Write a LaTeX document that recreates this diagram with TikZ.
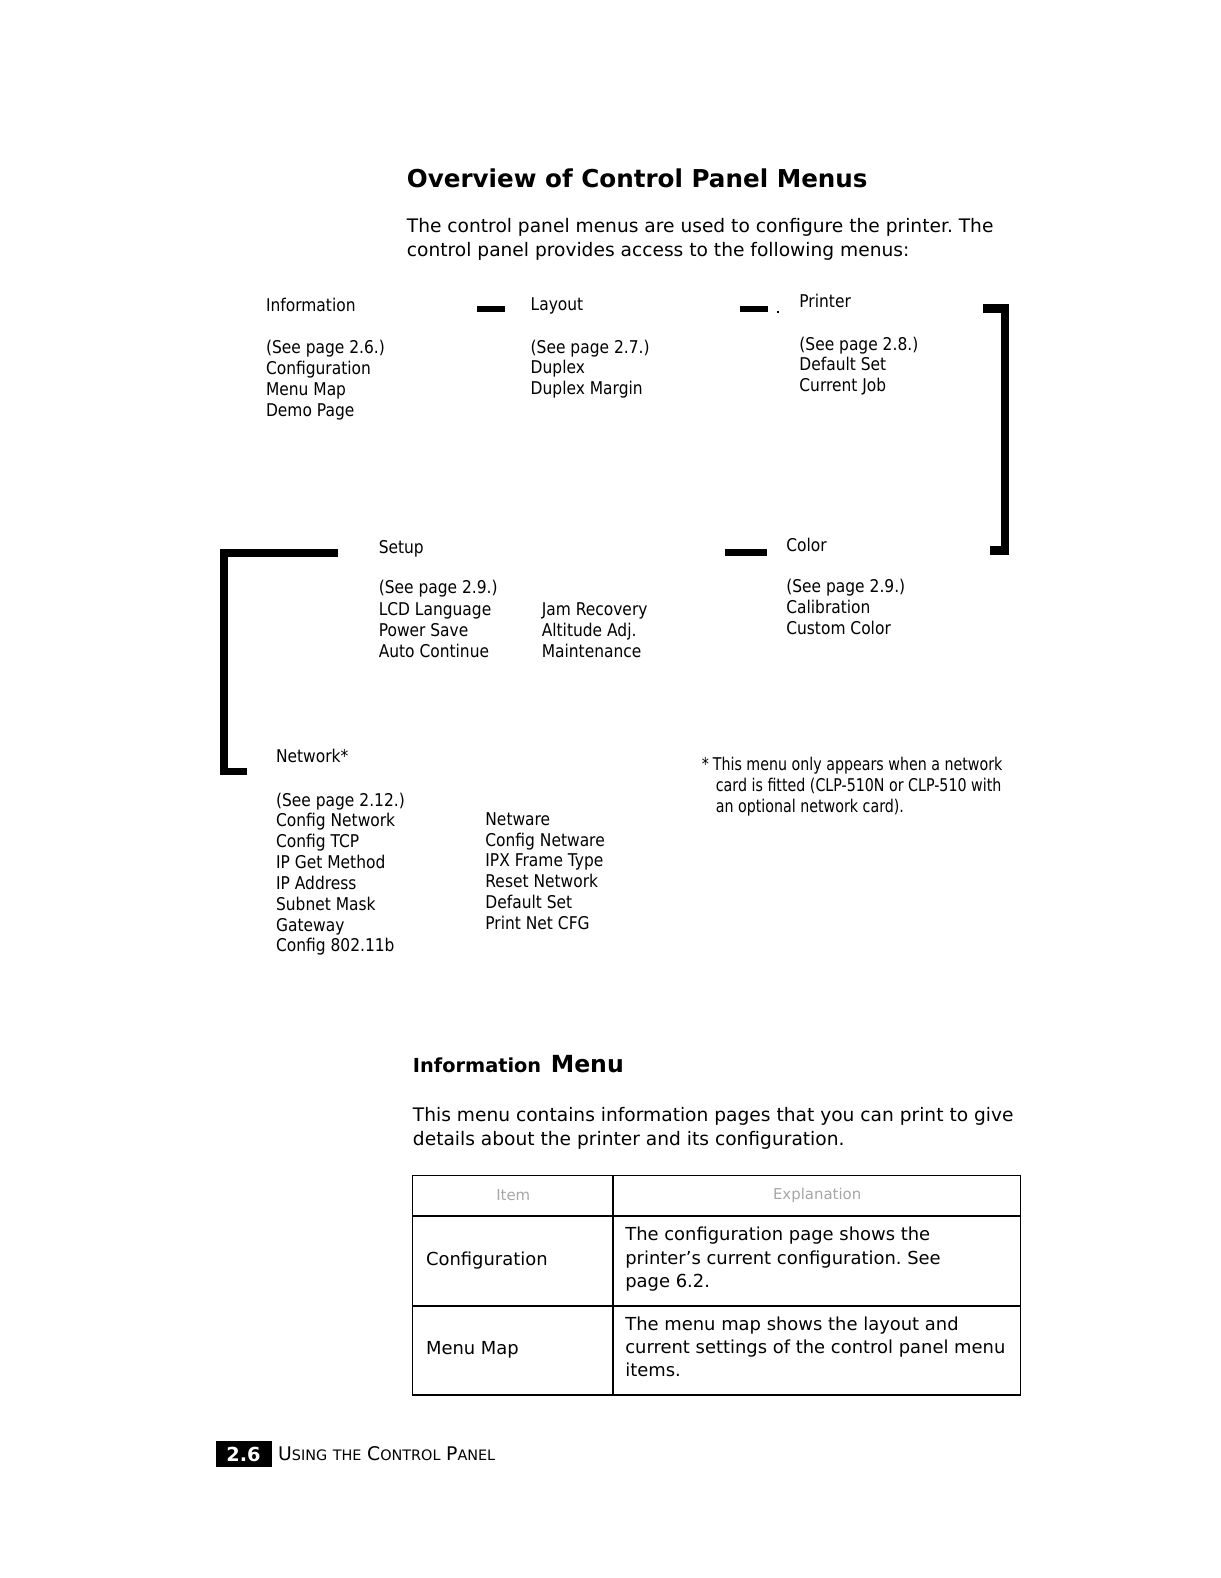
\documentclass[tikz,border=0pt]{standalone}
\usepackage{fontspec}
\setmainfont{DejaVu Sans}
\newfontfamily\menufont[FakeStretch=0.88]{DejaVu Sans}
\newfontfamily\notefont[FakeStretch=0.81]{DejaVu Sans}
\frenchspacing
\tikzset{
  menu/.style={anchor=base west,inner sep=0pt,font=\menufont\fontsize{10}{12}\selectfont},
  note/.style={anchor=base west,inner sep=0pt,font=\notefont\fontsize{10}{12}\selectfont},
  body/.style={anchor=base west,inner sep=0pt,font=\fontsize{10.6}{13}\selectfont},
  cell/.style={anchor=base west,inner sep=0pt,font=\fontsize{10.2}{13}\selectfont},
  faint/.style={inner sep=0pt,text=black!35,font=\fontsize{8.5}{10}\selectfont}
}
\newcommand{\capsmall}[2]{{\fontsize{10.7}{12}\selectfont #1}{\fontsize{8.2}{10}\selectfont #2}}

\begin{document}
\begin{tikzpicture}[x=0.020132cm,y=-0.020132cm]
\useasboundingbox (0,0) rectangle (1213,1568);
% heading and intro
\node[anchor=base west,inner sep=0pt,font=\bfseries\fontsize{14}{16}\selectfont] (title) at (404,186) {Overview of Control Panel Menus};
\node[body] (intro1) at (404,231) {The control panel menus are used to configure the printer. The};
\node[body] (intro2) at (404,255) {control panel provides access to the following menus:};

% menus
\node[menu] (info) at (264,310) {Information};
\foreach \t [count=\i from 0] in {{(See page 2.6.)},Configuration,{Menu Map},{Demo Page}}
  \node[menu] (info\i) at (264,351+20.8*\i) {\t};
\node[menu] (layout) at (527,309) {Layout};
\foreach \t [count=\i from 0] in {{(See page 2.7.)},Duplex,{Duplex Margin}}
  \node[menu] (layout\i) at (527,351+20.6*\i) {\t};
\node[menu] (printer) at (794,306) {Printer};
\foreach \t [count=\i from 0] in {{(See page 2.8.)},{Default Set},{Current Job}}
  \node[menu] (printer\i) at (794,348+20.6*\i) {\t};
\node[menu] (setup) at (376,550) {Setup};
\foreach \t [count=\i from 0] in {{(See page 2.9.)},{LCD Language},{Power Save},{Auto Continue}}
  \node[menu] (setup\i) at (376,590+21.2*\i) {\t};
\foreach \t [count=\i from 1] in {{Jam Recovery},{Altitude Adj.},Maintenance}
  \node[menu] (setupb\i) at (538,590+21.2*\i) {\t};
\node[menu] (color) at (781,548) {Color};
\foreach \t [count=\i from 0] in {{(See page 2.9.)},Calibration,{Custom Color}}
  \node[menu] (color\i) at (781,589+20.8*\i) {\t};
\node[menu] (network) at (274,758) {Network*};
\foreach \t [count=\i from 0] in {{(See page 2.12.)},{Config Network},{Config TCP},{IP Get Method},{IP Address},{Subnet Mask},Gateway,{Config 802.11b}}
  \node[menu] (net\i) at (274,801+20.7*\i) {\t};
\foreach \t [count=\i from 0] in {Netware,{Config Netware},{IPX Frame Type},{Reset Network},{Default Set},{Print Net CFG}}
  \node[menu] (netb\i) at (482,820+20.7*\i) {\t};

% footnote
\node[note] (star) at (697,766) {*};
\node[note] (note1) at (708,766) {This menu only appears when a network};
\node[note] (note2) at (711,786) {card is fitted (CLP-510N or CLP-510 with};
\node[note] (note3) at (711,807) {an optional network card).};

% bars and brackets
\fill (474,304) rectangle (502,310);
\fill (735,304) rectangle (763,310);
\fill (772,309) rectangle (774,311);
\fill (977,302) rectangle (1003,311);
\fill (995,302) rectangle (1003,551);
\fill (984,543) rectangle (1003,551);
\fill (720,546) rectangle (762,552);
\fill (219,546) rectangle (336,553);
\fill (219,546) rectangle (227,770);
\fill (219,763) rectangle (245,770);

% information menu
\node[anchor=base west,inner sep=0pt,font=\bfseries\fontsize{11}{13}\selectfont] (infohead) at (410,1066) {Information};
\node[anchor=base west,inner sep=0pt,font=\bfseries\fontsize{13.4}{15}\selectfont] (menuhead) at (547,1066) {Menu};
\node[body] (desc1) at (410,1114) {This menu contains information pages that you can print to give};
\node[body] (desc2) at (410,1138) {details about the printer and its configuration.};

% table
\draw[line width=1pt] (410,1168) rectangle (1014,1386);
\draw[line width=1pt] (609,1168) -- (609,1386);
\draw[line width=1pt] (410,1208) -- (1014,1208);
\draw[line width=1pt] (410,1298) -- (1014,1298);
\node[faint] (hitem) at (510,1188) {Item};
\node[faint] (hexpl) at (812,1188) {Explanation};
\node[cell] (cfg) at (423,1257) {Configuration};
\foreach \t [count=\i from 0] in {{The configuration page shows the},{printer's current configuration. See},{page 6.2.}}
  \node[cell] (cfgtxt\i) at (621,1233+23*\i) {\t};
\node[cell] (map) at (423,1346) {Menu Map};
\foreach \t [count=\i from 0] in {{The menu map shows the layout and},{current settings of the control panel menu},{items.}}
  \node[cell] (maptxt\i) at (621,1322+23*\i) {\t};

% footer
\fill (215,1432) rectangle (270,1458);
\node[text=white,inner sep=0pt,font=\bfseries\fontsize{11}{13}\selectfont] (pgno) at (242,1445) {2.6};
\node[anchor=base west,inner sep=0pt] (foot) at (276,1451) {\capsmall{U}{SING} \capsmall{}{THE} \capsmall{C}{ONTROL} \capsmall{P}{ANEL}};
\end{tikzpicture}
\end{document}
